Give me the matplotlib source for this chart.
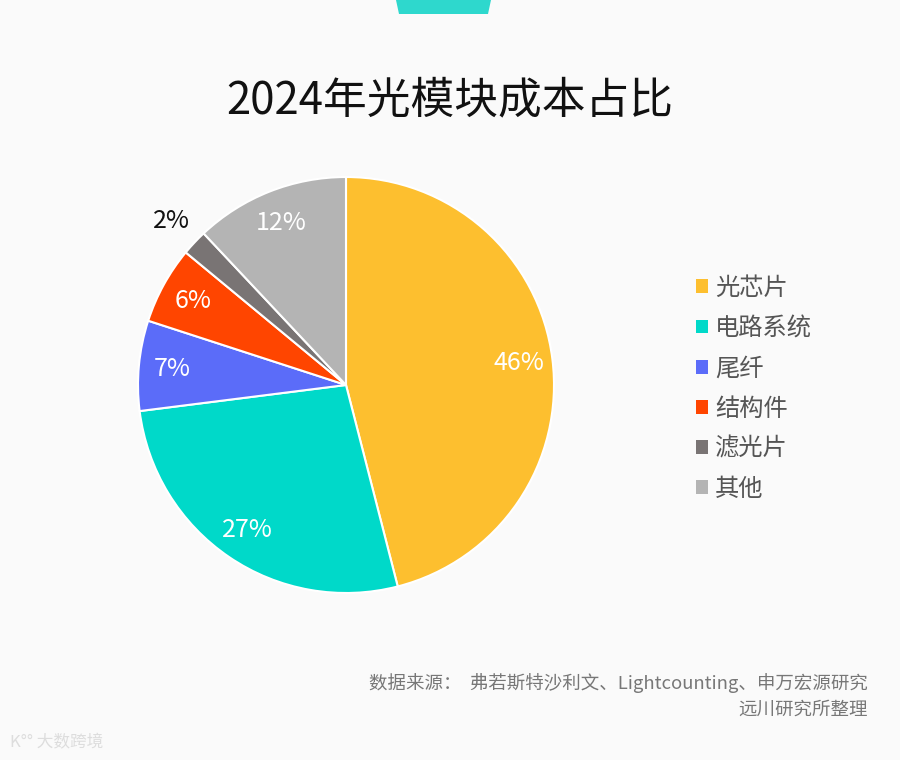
import matplotlib
matplotlib.use("Agg")
import numpy as np
import matplotlib.pyplot as plt
from matplotlib.patches import Patch, Polygon

plt.rcParams['font.family'] = ['Noto Sans CJK SC', 'DejaVu Sans']

# 数据
categories = ["光芯片", "电路系统", "尾纤", "结构件", "滤光片", "其他"]
shares = [46, 27, 7, 6, 2, 12]
colors = ["#FDBF2F", "#00D9C9", "#5B6CF9", "#FF4500", "#797474", "#B4B4B4"]
title = "2024年光模块成本占比"
source_lines = ["数据来源：  弗若斯特沙利文、Lightcounting、申万宏源研究", "远川研究所整理"]

bg = "#FAFAFA"
fig = plt.figure(figsize=(9, 7.6), dpi=100, facecolor=bg)

# 顶部的小梯形
fig.patches.append(Polygon([[396 / 900, 1.0], [491 / 900, 1.0], [488 / 900, 1 - 14 / 760], [399 / 900, 1 - 14 / 760]],
                           closed=True, transform=fig.transFigure, facecolor="#2ED8CD", edgecolor="none"))

fig.text(0.5, 1 - 100 / 760, title, ha="center", va="center", fontsize=31.5, color="#111111")

# 饼图
cx, cy, r = 346, 385, 208
ax = fig.add_axes([(cx - r) / 900, (760 - cy - r) / 760, 2 * r / 900, 2 * r / 760])
ax.set_facecolor(bg)
wedges, _ = ax.pie(shares, colors=colors, startangle=90, counterclock=False,
                   wedgeprops=dict(edgecolor="white", linewidth=1.5))
ax.set_xlim(-1, 1)
ax.set_ylim(-1, 1)
ax.set_aspect("auto")
ax.axis("off")

for w, v in zip(wedges, shares):
    ang = np.deg2rad((w.theta1 + w.theta2) / 2)
    if v < 5:
        d, c = 1.15, "#111111"
    else:
        d, c = 0.84, "white"
    ax.text(d * np.cos(ang), d * np.sin(ang), f"{v}%", ha="center", va="center",
            fontsize=18, color=c)

# 图例
handles = [Patch(facecolor=c, edgecolor="none") for c in colors]
leg = fig.legend(handles, categories, loc="upper left", bbox_to_anchor=(674 / 900, 1 - 253 / 760),
                 frameon=False, fontsize=17.5, handlelength=0.5, handleheight=0.5,
                 handletextpad=0.3, labelspacing=0.585)
for t in leg.get_texts():
    t.set_color("#555555")

# 来源
fig.text(868 / 900, 1 - 683 / 760, source_lines[0], ha="right", va="center", fontsize=13.3, color="#777777")
fig.text(868 / 900, 1 - 710 / 760, source_lines[1], ha="right", va="center", fontsize=13.3, color="#777777")

# 水印
fig.text(10 / 900, 1 - 743 / 760, "K°° 大数跨境", ha="left", va="center", fontsize=12, color="#DDDDDD")

fig.savefig("out.png", dpi=100, facecolor=bg)
